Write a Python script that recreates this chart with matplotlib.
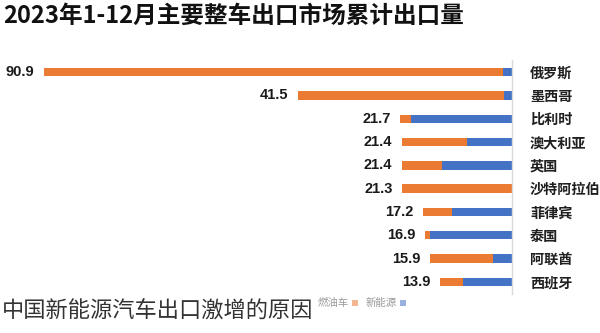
import numpy as np
import matplotlib
matplotlib.use("Agg")
import matplotlib.pyplot as plt
from matplotlib.patches import Rectangle

plt.rcParams['font.family'] = ['Noto Sans CJK SC', 'DejaVu Sans']

countries = ["俄罗斯", "墨西哥", "比利时", "澳大利亚", "英国",
             "沙特阿拉伯", "菲律宾", "泰国", "阿联酋", "西班牙"]
totals = [90.9, 41.5, 21.7, 21.4, 21.4, 21.3, 17.2, 16.9, 15.9, 13.9]
nev = [1.8, 1.6, 19.7, 8.8, 13.6, 0.0, 11.6, 15.9, 3.7, 9.6]
series_names = ["燃油车", "新能源"]

title = "2023年1-12月主要整车出口市场累计出口量"
caption = "中国新能源汽车出口激增的原因"

ORANGE = "#EB7B33"
BLUE = "#4472C4"

W, H = 600, 333
fig = plt.figure(figsize=(W / 100, H / 100), dpi=100)
fig.patch.set_facecolor("white")

# axes placed in pixel terms: right spine at x=512, rows from y=60 to y=294
ax_left, ax_right = 0, 512
ax_top, ax_bot = 60.4, 293.6
ax = fig.add_axes([ax_left / W, 1 - ax_bot / H,
                   (ax_right - ax_left) / W, (ax_bot - ax_top) / H])

totals_a = np.array(totals)
nev_a = np.array(nev)
fuel_a = totals_a - nev_a
y = np.arange(len(countries))
bar_h = 0.36

ax.barh(y, nev_a, height=bar_h, color=BLUE, linewidth=0)
ax.barh(y, fuel_a, left=nev_a, height=bar_h, color=ORANGE, linewidth=0)

px_per_unit = 5.15
ax.set_xlim((ax_right - ax_left) / px_per_unit, 0)
ax.set_ylim(len(countries) - 0.5, -0.5)

for spine in ["top", "bottom", "left"]:
    ax.spines[spine].set_visible(False)
ax.spines["right"].set_color("#d9d9d9")
ax.spines["right"].set_linewidth(1.0)
ax.set_xticks([])
ax.yaxis.tick_right()
ax.set_yticks(y)
ax.set_yticklabels(countries, fontsize=10.2, color="#1f1f1f", fontweight="bold")
ax.tick_params(axis="y", length=0, pad=13)
for lbl in ax.get_yticklabels():
    lbl.set_horizontalalignment("left")

for yi, t in zip(y, totals_a):
    ax.annotate(f"{t:.1f}", xy=(t, yi), xytext=(-7, 0), textcoords="offset points",
                ha="right", va="center", fontsize=10.5, fontweight="bold",
                family=["Liberation Sans", "DejaVu Sans"], color="#1a1a1a")

# legend row, faint, to the right of the caption
legend_y = 1 - 303 / H
for x_sq, name, col in [(352, series_names[0], ORANGE), (400, series_names[1], BLUE)]:
    fig.patches.append(Rectangle((x_sq / W, legend_y - 3 / H), 6 / W, 6 / H,
                                 transform=fig.transFigure, color=col, alpha=0.55,
                                 linewidth=0))
    fig.text((x_sq - 3) / W, legend_y, name, ha="right", va="center",
             fontsize=7.5, color="#9a9a9a")

fig.text(3 / W, 1 - 16 / H, title, ha="left", va="center", fontsize=17,
         fontweight="heavy", color="#111111")
fig.text(2 / W, 1 - 311 / H, caption, ha="left", va="center", fontsize=16,
         fontweight="light", color="#333333")

fig.savefig("out.png", dpi=100, facecolor="white")
